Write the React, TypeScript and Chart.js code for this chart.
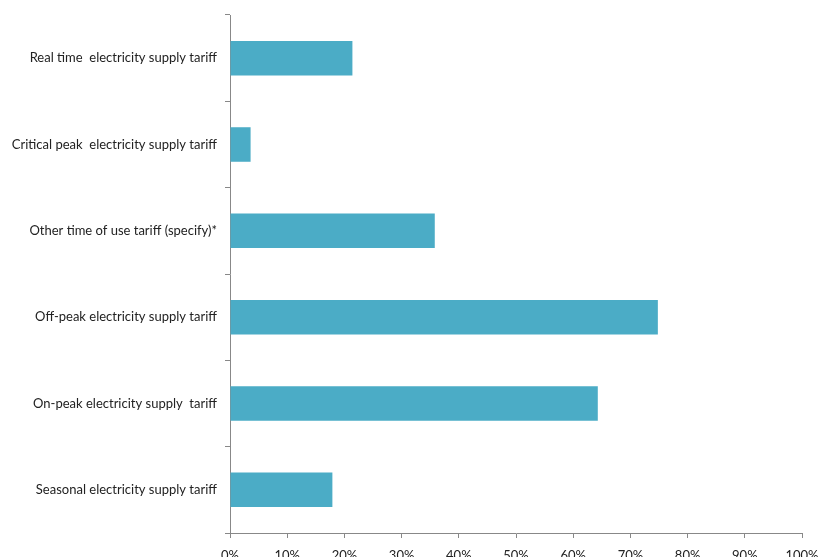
import React, { useEffect, useRef } from "react";
import { Chart, registerables } from "chart.js";

Chart.register(...registerables);

const categories = [
  "Real time  electricity supply tariff",
  "Critical peak  electricity supply tariff",
  "Other time of use tariff (specify)*",
  "Off-peak electricity supply tariff",
  "On-peak electricity supply  tariff",
  "Seasonal electricity supply tariff",
];
const values = [21.4, 3.6, 35.8, 74.8, 64.3, 17.9];
const xTicks = [0, 10, 20, 30, 40, 50, 60, 70, 80, 90, 100];

export default function App() {
  const ref = useRef<HTMLCanvasElement | null>(null);
  useEffect(() => {
    if (!ref.current) return;
    const chart = new Chart(ref.current, {
      type: "bar",
      data: {
        labels: categories,
        datasets: [
          {
            data: values,
            backgroundColor: "#4BACC6",
            borderWidth: 0,
            categoryPercentage: 0.4,
            barPercentage: 1.0,
          },
        ],
      },
      options: {
        indexAxis: "y",
        animation: false,
        responsive: false,
        maintainAspectRatio: false,
        layout: { padding: { top: 15, right: 17, left: 0, bottom: 0 } },
        plugins: { legend: { display: false }, tooltip: { enabled: false } },
        scales: {
          x: {
            min: 0,
            max: 100,
            afterBuildTicks: (s: any) => {
              s.ticks = xTicks.map((v) => ({ value: v }));
            },
            afterFit: (s: any) => {
              s.height = 47;
              s.paddingLeft = 0;
              s.paddingRight = 0;
            },
            grid: {
              drawOnChartArea: false,
              drawTicks: true,
              tickLength: 5,
              color: "#888",
            },
            border: { color: "#888", width: 1 },
            ticks: {
              padding: 10,
              color: "#222",
              font: { family: "Lato", size: 13 },
              callback: (v: any) => v + "%",
              maxRotation: 0,
            },
          },
          y: {
            offset: true,
            afterFit: (s: any) => {
              s.width = 230;
              s.paddingTop = 0;
              s.paddingBottom = 0;
            },
            grid: {
              offset: true,
              drawOnChartArea: false,
              drawTicks: true,
              tickLength: 5,
              color: "#888",
            },
            border: { color: "#888", width: 1 },
            ticks: {
              padding: 8,
              color: "#222",
              font: { family: "Lato", size: 13 },
            },
          },
        },
      },
    });
    return () => chart.destroy();
  }, []);
  return (
    <div
      style={{
        position: "absolute",
        top: 0,
        left: 0,
        width: 819,
        height: 557,
        overflow: "hidden",
        background: "#fff",
      }}
    >
      <canvas ref={ref} width={819} height={580} style={{ display: "block" }} />
    </div>
  );
}
